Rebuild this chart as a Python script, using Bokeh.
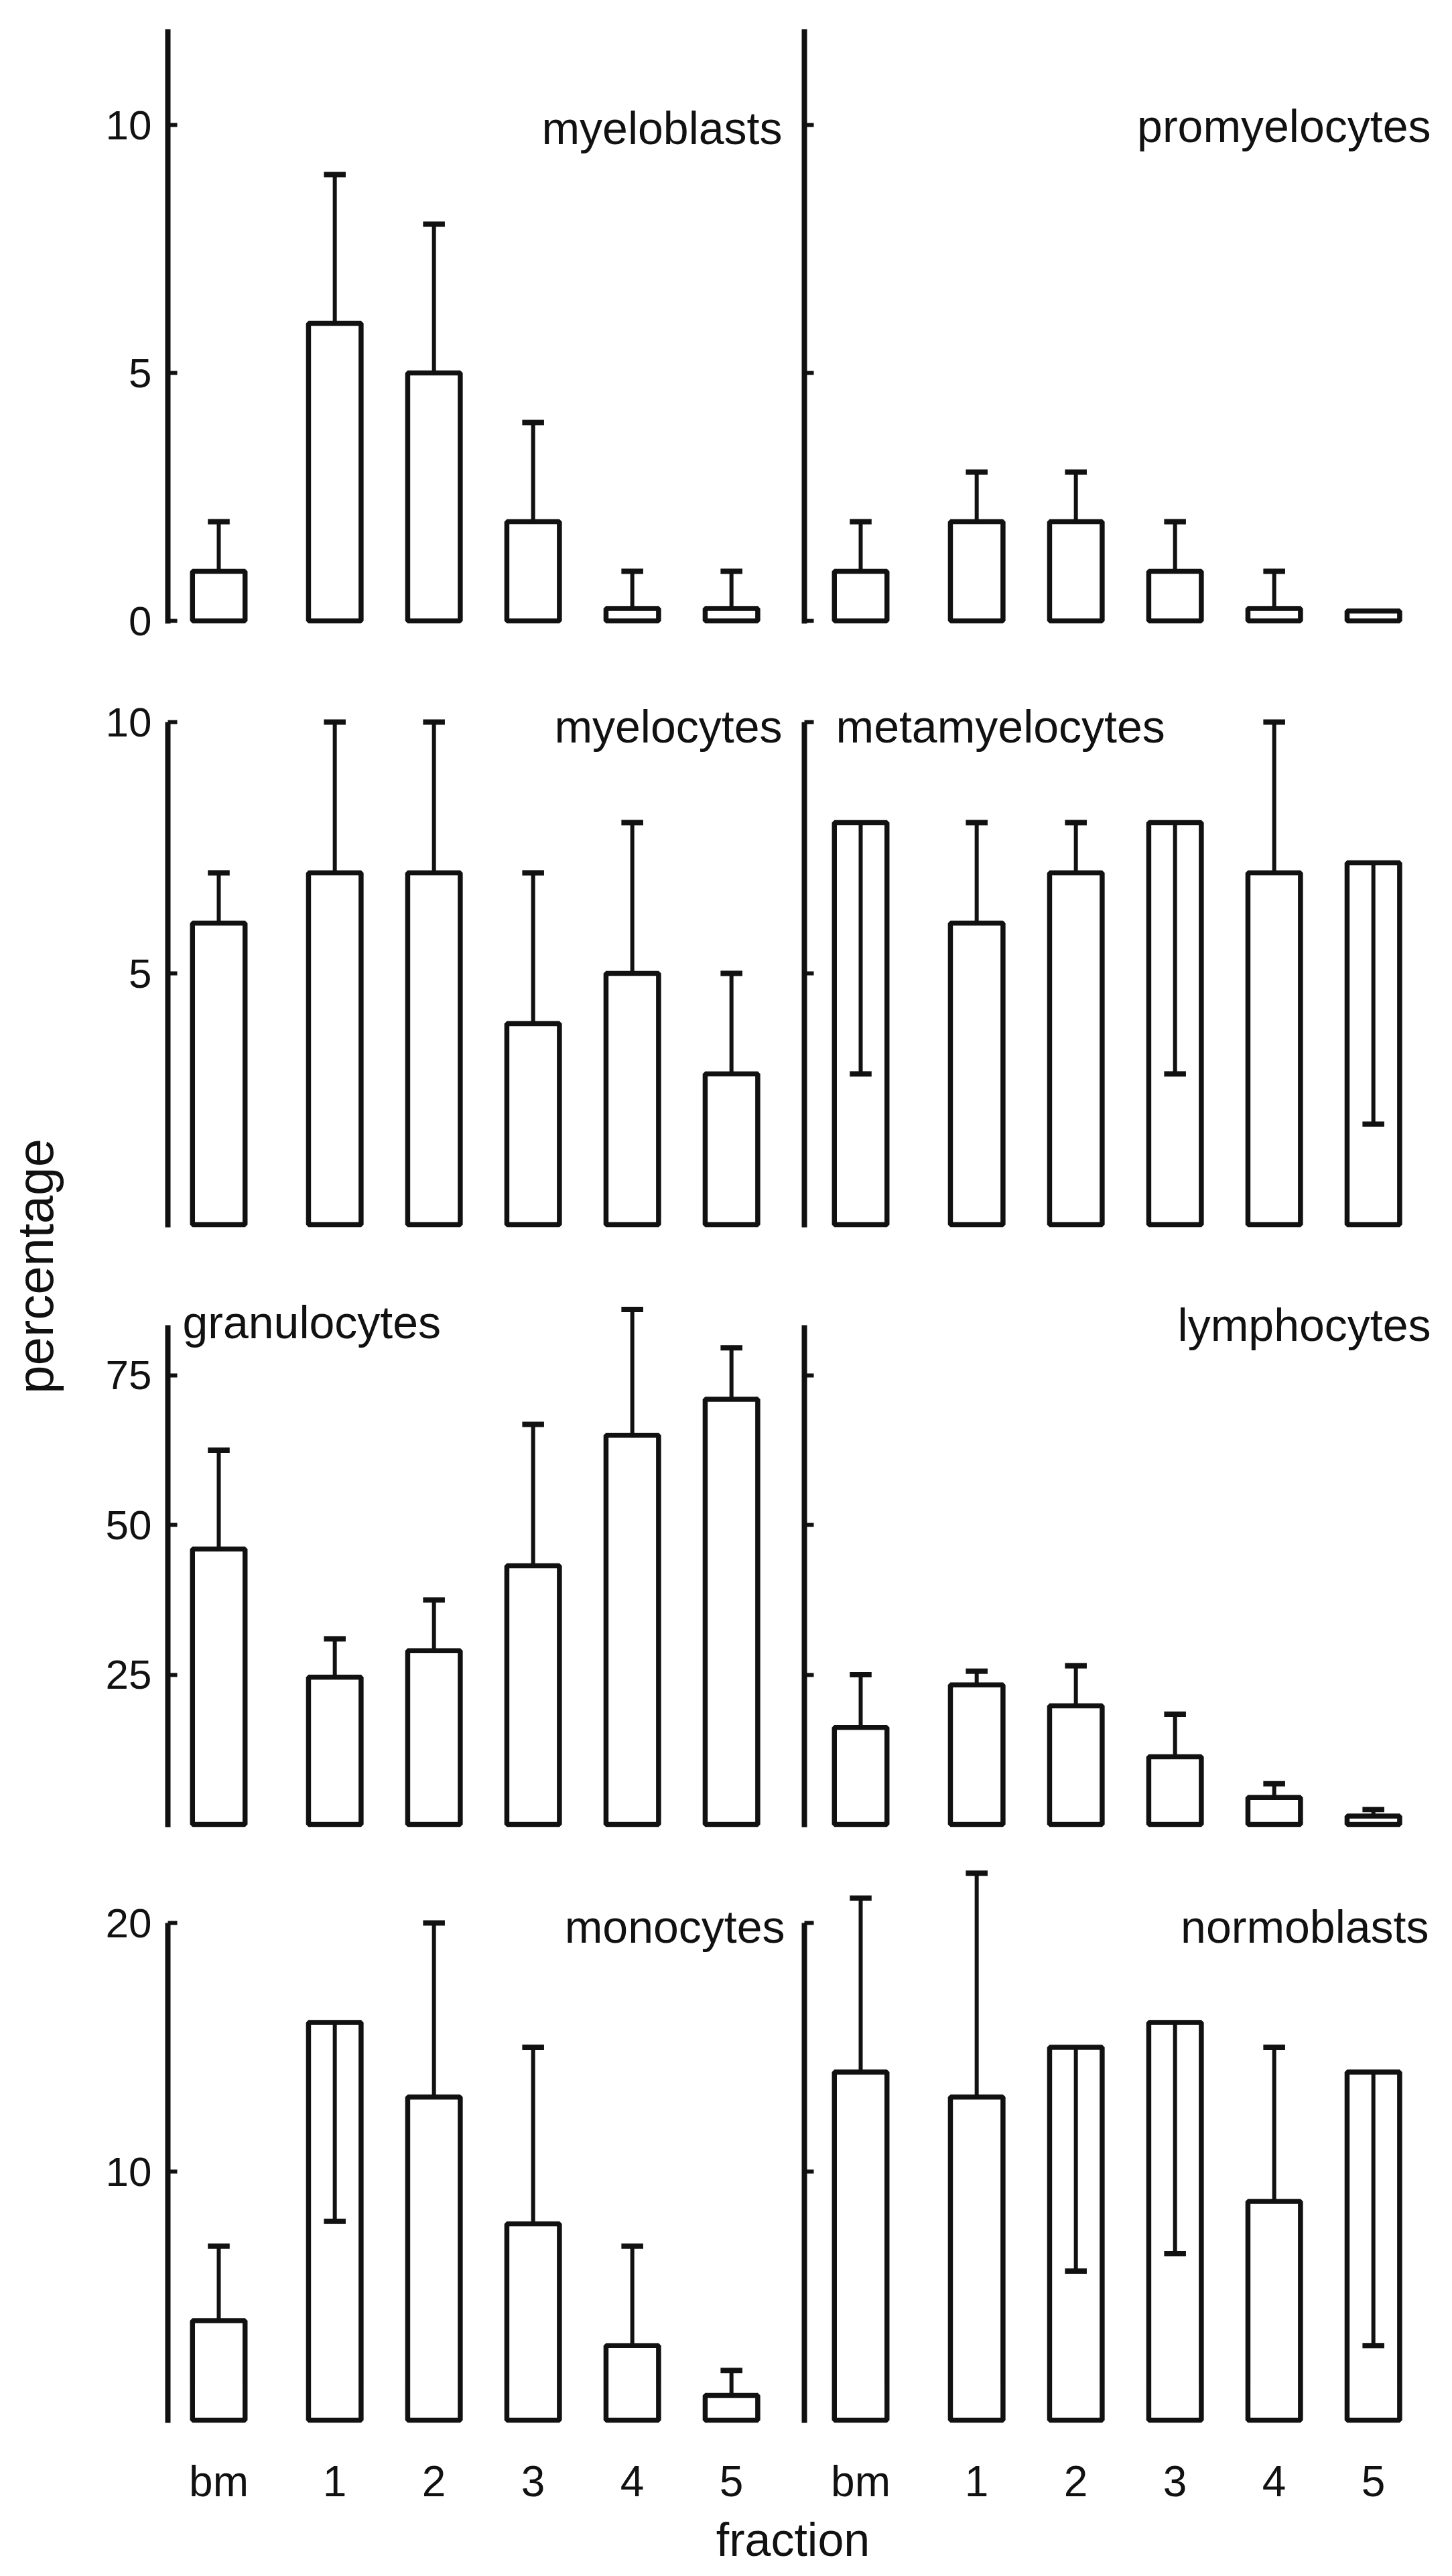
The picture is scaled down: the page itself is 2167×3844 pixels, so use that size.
import math
from bokeh.plotting import figure
from bokeh.models import Range1d, FixedTicker, LinearAxis, Label, CustomJSTickFormatter
from bokeh.layouts import column, row
from bokeh.embed import file_html
from bokeh.resources import INLINE

# ---------------- data ----------------
fractions = ["bm", "1", "2", "3", "4", "5"]

myeloblasts = [1, 6, 5, 2, 0.25, 0.25]
myeloblasts_err = [2, 9, 8, 4, 1, 1]
promyelocytes = [1, 2, 2, 1, 0.25, 0.2]
promyelocytes_err = [2, 3, 3, 2, 1, None]
myelocytes = [6, 7, 7, 4, 5, 3]
myelocytes_err = [7, 10, 10, 7, 8, 5]
metamyelocytes = [8, 6, 7, 8, 7, 7.2]
metamyelocytes_err = [3, 8, 8, 3, 10, 2]
granulocytes = [46, 24.6, 29, 43.2, 65, 71]
granulocytes_err = [62.5, 31, 37.5, 66.8, 86, 79.6]
lymphocytes = [16.2, 23.3, 19.8, 11.3, 4.5, 1.4]
lymphocytes_err = [25, 25.6, 26.5, 18.4, 6.8, 2.5]
monocytes = [4, 16, 13, 7.9, 3, 1]
monocytes_err = [7, 8, 20, 15, 7, 2]
normoblasts = [14, 13, 15, 16, 8.8, 14]
normoblasts_err = [21, 22, 6, 6.7, 15, 3]

row_ticks = [[0, 5, 10], [5, 10], [25, 50, 75], [10, 20]]
row_axis_top = [None, 10, 83.4, 20]

# ---------------- layout (screen pixels) ----------------
FONT = "Liberation Sans"
INK = "#111111"
LEFT_X0 = 150
AXIS_L = 258
RIGHT_X0 = 1204
DIV = 1208
RIGHT_END = 2159
BM_L, BM_R, STEP = 334, 1292, 148

rows = [
    dict(top=8, bottom=990, ftop=51, fbot=990, zero=934, unit=74.0),
    dict(top=990, bottom=1900, ftop=990, fbot=1900, zero=1835, unit=75.0),
    dict(top=1900, bottom=2790, ftop=1900, fbot=2790, zero=2730, unit=8.936),
    dict(top=2790, bottom=3750, ftop=2790, fbot=3630, zero=3619, unit=37.1),
]

xpos = [i + (0.17 if i > 0 else 0.0) for i in range(len(fractions))]


def panel(side, ri, vals, errs, name, lab_px, lab_py, align):
    r = rows[ri]
    x0 = LEFT_X0 if side == 0 else RIGHT_X0
    x1 = RIGHT_X0 if side == 0 else RIGHT_END
    fl = AXIS_L if side == 0 else DIV
    bm = BM_L if side == 0 else BM_R
    unit = r["unit"]
    xr = Range1d((fl - bm) / STEP, (x1 - bm) / STEP)
    y_end = (r["zero"] - r["ftop"]) / unit
    yr = Range1d((r["zero"] - r["fbot"]) / unit, y_end)
    p = figure(width=x1 - x0, height=r["bottom"] - r["top"], x_range=xr, y_range=yr,
               output_backend="svg", toolbar_location=None, title=None,
               min_border_left=fl - x0, min_border_right=0,
               min_border_top=r["ftop"] - r["top"], min_border_bottom=r["bottom"] - r["fbot"])
    p.xgrid.visible = False
    p.ygrid.visible = False
    p.outline_line_color = None
    p.background_fill_color = "white"
    p.border_fill_color = "white"

    p.vbar(x=xpos, top=vals, bottom=0, width=0.53, fill_color="white",
           line_color=INK, line_width=7.5)
    ex = [x for x, e in zip(xpos, errs) if e is not None]
    ev = [v for v, e in zip(vals, errs) if e is not None]
    ee = [e for e in errs if e is not None]
    p.segment(x0=ex, y0=ev, x1=ex, y1=ee, line_color=INK, line_width=6)
    p.segment(x0=[x - 0.11 for x in ex], y0=ee, x1=[x + 0.11 for x in ex], y1=ee,
              line_color=INK, line_width=8)

    ax = p.yaxis[0]
    ax.ticker = FixedTicker(ticks=row_ticks[ri])
    top_val = row_axis_top[ri] if row_axis_top[ri] is not None else y_end
    ax.bounds = (-4 / unit, top_val)
    ax.axis_line_width = 8
    ax.axis_line_color = INK
    ax.major_tick_in = 14
    ax.major_tick_out = 0
    ax.major_tick_line_width = 6
    ax.major_tick_line_color = INK
    ax.minor_tick_line_color = None
    if side == 0:
        ax.major_label_text_font = FONT
        ax.major_label_text_font_size = "62px"
        ax.major_label_text_color = INK
        ax.major_label_standoff = 24
    else:
        ax.formatter = CustomJSTickFormatter(code="return ''")
        ax.major_label_standoff = 0

    if ri == 0:
        top_ax = LinearAxis(ticker=FixedTicker(ticks=[]), axis_line_width=8, axis_line_color=INK,
                            major_tick_out=0, major_tick_in=0, major_label_standoff=0,
                            minor_tick_line_color=None,
                            formatter=CustomJSTickFormatter(code="return ''"))
        p.add_layout(top_ax, "above")

    if ri == 3:
        xa = p.xaxis[0]
        xa.ticker = FixedTicker(ticks=xpos)
        xa.formatter = CustomJSTickFormatter(args=dict(labels=fractions),
                                             code="return labels[Math.round(tick)]")
        xa.axis_line_color = None
        xa.major_tick_line_color = None
        xa.minor_tick_line_color = None
        xa.major_label_standoff = 38
        xa.major_label_text_font = FONT
        xa.major_label_text_font_size = "64px"
        xa.major_label_text_color = INK
    else:
        p.xaxis.visible = False

    p.add_layout(Label(x=(lab_px - bm) / STEP, y=(r["zero"] - lab_py) / unit, text=name,
                       text_align=align, text_baseline="alphabetic", text_font=FONT,
                       text_font_size="68px", text_color=INK))
    return p


p11 = panel(0, 0, myeloblasts, myeloblasts_err, "myeloblasts", 1175, 198, "right")
p12 = panel(1, 0, promyelocytes, promyelocytes_err, "promyelocytes", 2143, 195, "right")
p21 = panel(0, 1, myelocytes, myelocytes_err, "myelocytes", 1175, 1091, "right")
p22 = panel(1, 1, metamyelocytes, metamyelocytes_err, "metamyelocytes", 1255, 1091, "left")
p31 = panel(0, 2, granulocytes, granulocytes_err, "granulocytes", 280, 1980, "left")
p32 = panel(1, 2, lymphocytes, lymphocytes_err, "lymphocytes", 2143, 1984, "right")
p41 = panel(0, 3, monocytes, monocytes_err, "monocytes", 1179, 2882, "right")
p42 = panel(1, 3, normoblasts, normoblasts_err, "normoblasts", 2140, 2882, "right")

GRID_H = rows[-1]["bottom"] - rows[0]["top"]

lf = figure(width=LEFT_X0 - 8, height=GRID_H, x_range=Range1d(8, LEFT_X0),
            y_range=Range1d(0, GRID_H), x_axis_type=None, y_axis_type=None,
            output_backend="svg", toolbar_location=None, title=None,
            min_border_left=0, min_border_right=0, min_border_top=0, min_border_bottom=0)
lf.grid.visible = False
lf.outline_line_color = None
lf.add_layout(Label(x=60, y=rows[-1]["bottom"] - 1897, text="percentage", angle=math.pi / 2,
                    text_align="center", text_baseline="middle", text_font=FONT,
                    text_font_size="76px", text_color=INK))

FR_H = 3836 - rows[-1]["bottom"]
ff = figure(width=RIGHT_END - 8, height=FR_H, x_range=Range1d(8, RIGHT_END),
            y_range=Range1d(0, FR_H), x_axis_type=None, y_axis_type=None,
            output_backend="svg", toolbar_location=None, title=None,
            min_border_left=0, min_border_right=0, min_border_top=0, min_border_bottom=0)
ff.grid.visible = False
ff.outline_line_color = None
ff.add_layout(Label(x=1191, y=3836 - 3797, text="fraction", text_align="center",
                    text_baseline="middle", text_font=FONT, text_font_size="70px",
                    text_color=INK))

grid = column(row(p11, p12), row(p21, p22), row(p31, p32), row(p41, p42))
page = column(row(lf, grid), ff)

open("out.html", "w").write(file_html(page, INLINE))
